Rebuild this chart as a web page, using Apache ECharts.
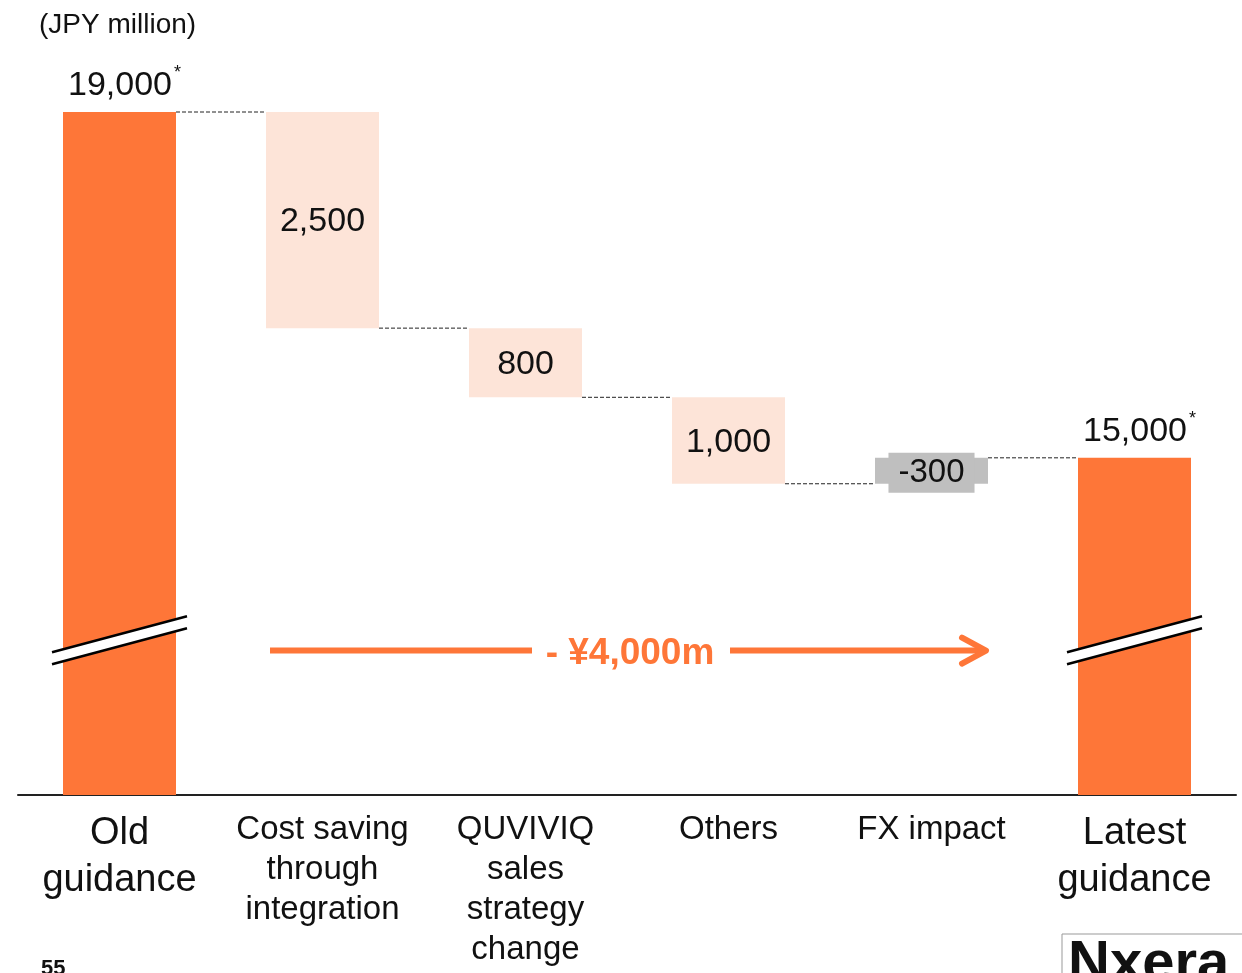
<!DOCTYPE html>
<html>
<head>
<meta charset="utf-8">
<script src="https://cdn.jsdelivr.net/npm/echarts@6/dist/echarts.min.js"></script>
<style>
html,body{margin:0;padding:0;background:#fff;}
#c{width:1242px;height:973px;}
</style>
</head>
<body>
<div id="c"></div>
<script>
// ---- data ----
var categories = ['Old\nguidance', 'Cost saving\nthrough\nintegration', 'QUVIVIQ\nsales\nstrategy\nchange', 'Others', 'FX impact', 'Latest\nguidance'];
var barBase   = [0, 16500, 15700, 14700, 14700, 0];     // invisible lower part of each bar
var barHeight = [19000, 2500, 800, 1000, 300, 15000];   // visible part
var barLabels = ['19,000', '2,500', '800', '1,000', '-300', '15,000'];
var connectorLevels = [19000, 16500, 15700, 14700, 15000]; // dashed lines between bars i and i+1
var totalChangeText = '- \u00a54,000m';
var unitText = '(JPY million)';

var ORANGE = '#FE7638', PINK = '#FDE4D8', GRAY = '#BFBFBF';
var FONT = '"Liberation Sans", Arial, sans-serif';
var BAR_W = 113;

var chart = echarts.init(document.getElementById('c'), null, {renderer: 'canvas'});

function itemColor(i) {
  if (i === 0 || i === 5) return ORANGE;
  if (i === 4) return GRAY;
  return PINK;
}

var visibleData = barHeight.map(function (v, i) {
  var d = {value: v, itemStyle: {color: itemColor(i)}};
  if (i === 0 || i === 5) {
    d.label = {show: true, position: 'top', distance: 6, offset: [5, 0],
      formatter: '{n|' + barLabels[i] + '}{s|*}',
      rich: {
        n: {fontSize: 34, fontFamily: FONT, color: '#111', lineHeight: 40},
        s: {fontSize: 18, fontFamily: FONT, color: '#111', lineHeight: 40, padding: [0, 0, 26, 2]}
      }};
  } else if (i === 4) {
    d.label = {show: true, position: 'inside', offset: [0, 2], formatter: barLabels[i], fontSize: 33, fontFamily: FONT,
      color: '#111', backgroundColor: GRAY, padding: [4, 10, 3, 10]};
  } else {
    d.label = {show: true, position: 'inside', offset: [0, 2], formatter: barLabels[i], fontSize: 34, fontFamily: FONT, color: '#111'};
  }
  return d;
});

var option = {
  animation: false,
  backgroundColor: '#fff',
  grid: {left: 18, right: 6, top: 112, bottom: 178, containLabel: false},
  xAxis: {
    type: 'category',
    data: categories,
    axisLine: {show: true, lineStyle: {color: '#222', width: 2}},
    axisTick: {show: false},
    axisLabel: {
      interval: 0, margin: 15, color: '#111',
      formatter: function (v, idx) {
        var big = (idx === 0 || idx === 5);
        return v.split('\n').map(function (l) { return '{' + (big ? 'b' : 'm') + '|' + l + '}'; }).join('\n');
      },
      rich: {
        b: {fontSize: 38, fontFamily: FONT, lineHeight: 47, color: '#111'},
        m: {fontSize: 33, fontFamily: FONT, lineHeight: 40, color: '#111'}
      }
    }
  },
  yAxis: {type: 'value', min: 11100, max: 19000, show: false, splitLine: {show: false}},
  series: [
    {
      type: 'bar', stack: 'w', data: barBase, barWidth: BAR_W,
      itemStyle: {color: 'rgba(0,0,0,0)'}, silent: true
    },
    {
      type: 'bar', stack: 'w', data: visibleData, barWidth: BAR_W
    },
    {
      type: 'custom',
      data: connectorLevels.map(function (v, i) { return [i, v]; }),
      renderItem: function (params, api) {
        var p = api.coord([api.value(0), api.value(1)]);
        var band = api.size([1, 0])[0];
        return {
          type: 'line',
          shape: {x1: p[0] + BAR_W / 2, y1: p[1], x2: p[0] + band - BAR_W / 2, y2: p[1]},
          style: {stroke: '#222', lineWidth: 1, lineDash: [4, 2]}
        };
      },
      z: 5, silent: true
    }
  ]
};
chart.setOption(option);

// decorations (axis break marks, total arrow, captions)
function px(ci, v) { return chart.convertToPixel({xAxisIndex: 0, yAxisIndex: 0}, [ci, v]); }
var g = [];
g.push({type: 'text', left: 39, top: 11, style: {text: unitText, fontSize: 28, fontFamily: FONT, fill: '#111'}});

[0, 5].forEach(function (ci) {
  var c = px(ci, 12890);
  var cx = c[0], yc = c[1];
  g.push({type: 'polygon', z: 20, shape: {points: [[cx - 67.5, yc + 12], [cx + 67.5, yc - 24], [cx + 67.5, yc - 12], [cx - 67.5, yc + 24]]}, style: {fill: '#fff'}});
  g.push({type: 'line', z: 21, shape: {x1: cx - 67.5, y1: yc + 12, x2: cx + 67.5, y2: yc - 24}, style: {stroke: '#000', lineWidth: 2.5}});
  g.push({type: 'line', z: 21, shape: {x1: cx - 67.5, y1: yc + 24, x2: cx + 67.5, y2: yc - 12}, style: {stroke: '#000', lineWidth: 2.5}});
});

var a0 = px(1, 12770), a1 = px(4, 12770);
var ax0 = a0[0] - BAR_W / 2 + 4, ax1 = a1[0] + BAR_W / 2, ay = a0[1];
var tcx = 630;
g.push({type: 'line', shape: {x1: ax0, y1: ay, x2: 532, y2: ay}, style: {stroke: ORANGE, lineWidth: 6}});
g.push({type: 'line', shape: {x1: 730, y1: ay, x2: ax1 - 3, y2: ay}, style: {stroke: ORANGE, lineWidth: 6}});
g.push({type: 'polyline', shape: {points: [[ax1 - 26, ay - 13], [ax1 - 2, ay], [ax1 - 26, ay + 13]]}, style: {stroke: ORANGE, lineWidth: 6, lineCap: 'round', lineJoin: 'round', fill: null}});
g.push({type: 'text', x: tcx, y: ay + 3, style: {text: totalChangeText, fontSize: 37, fontWeight: 'bold', fontFamily: FONT, fill: ORANGE, align: 'center', verticalAlign: 'middle'}});

g.push({type: 'text', left: 41, top: 958, style: {text: '55', fontSize: 22, fontWeight: 'bold', fontFamily: FONT, fill: '#111'}});
g.push({type: 'rect', shape: {x: 1062, y: 934, width: 190, height: 60}, style: {fill: '#fff', stroke: '#999', lineWidth: 1}});
g.push({type: 'text', left: 1068, top: 936, style: {text: 'Nxera', fontSize: 58, fontWeight: 'bold', fontFamily: FONT, fill: '#111'}});

chart.setOption({graphic: g});
</script>
</body>
</html>
